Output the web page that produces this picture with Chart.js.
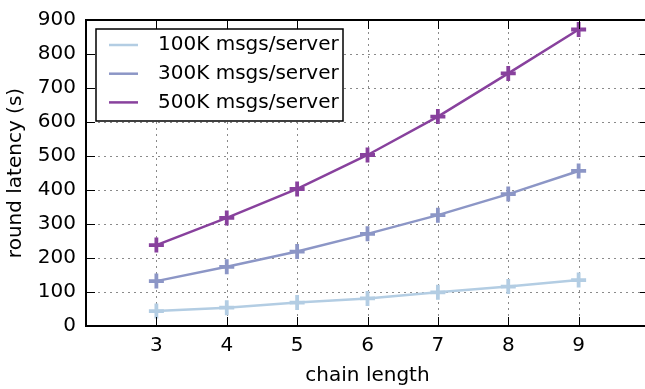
<!DOCTYPE html>
<html>
<head>
<meta charset="utf-8">
<script src="https://cdn.jsdelivr.net/npm/chart.js@4/dist/chart.umd.min.js"></script>
<style>
  html, body { margin: 0; padding: 0; background: #fff; overflow: hidden; }
  #wrap { width: 645px; height: 389px; overflow: hidden; }
  canvas { display: block; }
</style>
</head>
<body>
<div id="wrap"><canvas id="c" width="649" height="389"></canvas></div>
<script>
// Round latency vs. mix-chain length, per message load
const chainLengths = [3, 4, 5, 6, 7, 8, 9];
const latency100K = [44, 54, 69, 81, 99, 116, 135];
const latency300K = [132, 174, 219, 271, 326, 388, 456];
const latency500K = [238, 318, 403, 503, 616, 743, 872];
const seriesLabels = ['100K msgs/server', '300K msgs/server', '500K msgs/server'];
const seriesColors = ['#b3cde3', '#8c96c6', '#88419d'];
const xTickValues = [3, 4, 5, 6, 7, 8, 9];
const yTickValues = [0, 100, 200, 300, 400, 500, 600, 700, 800, 900];

const FONT_FAMILY = "'DejaVu Sans', 'Liberation Sans', sans-serif";
const FONT_SIZE = 20;

function toPoints(values) {
  return chainLengths.map((x, i) => ({ x: x, y: values[i] }));
}

const seriesValues = [latency100K, latency300K, latency500K];
const datasets = seriesValues.map((vals, i) => ({
  label: seriesLabels[i],
  data: toPoints(vals),
  borderColor: seriesColors[i],
  backgroundColor: seriesColors[i],
  borderWidth: 2.5,
  pointStyle: 'cross',
  pointRadius: 7.5,
  pointBorderWidth: 3.8,
  pointHoverRadius: 7.5,
  tension: 0,
  fill: false
}));

// Dotted grid, inward tick marks, black frame and boxed legend
const framePlugin = {
  id: 'frameAndLegend',
  beforeDatasetsDraw(chart) {
    const { ctx, chartArea: a, scales } = chart;
    ctx.save();
    ctx.strokeStyle = '#8a8a8a';
    ctx.lineWidth = 1;
    ctx.setLineDash([2, 4]);
    xTickValues.forEach(v => {
      const px = Math.round(scales.x.getPixelForValue(v)) + 0.5;
      ctx.beginPath(); ctx.moveTo(px, a.top); ctx.lineTo(px, a.bottom); ctx.stroke();
    });
    yTickValues.slice(1, -1).forEach(v => {
      const py = Math.round(scales.y.getPixelForValue(v)) + 0.5;
      ctx.beginPath(); ctx.moveTo(a.left, py); ctx.lineTo(a.right, py); ctx.stroke();
    });
    ctx.restore();
  },
  afterDatasetsDraw(chart) {
    const { ctx, chartArea: a, scales } = chart;
    const tickLen = 9;
    ctx.save();
    ctx.setLineDash([]);
    ctx.strokeStyle = '#000';
    ctx.lineWidth = 1;
    xTickValues.forEach(v => {
      const px = Math.round(scales.x.getPixelForValue(v)) + 0.5;
      ctx.beginPath(); ctx.moveTo(px, a.bottom); ctx.lineTo(px, a.bottom - tickLen); ctx.stroke();
      ctx.beginPath(); ctx.moveTo(px, a.top); ctx.lineTo(px, a.top + tickLen); ctx.stroke();
    });
    yTickValues.forEach(v => {
      const py = Math.round(scales.y.getPixelForValue(v)) + 0.5;
      ctx.beginPath(); ctx.moveTo(a.left, py); ctx.lineTo(a.left + tickLen, py); ctx.stroke();
      ctx.beginPath(); ctx.moveTo(a.right, py); ctx.lineTo(a.right - tickLen, py); ctx.stroke();
    });
    ctx.lineWidth = 2;
    ctx.strokeRect(Math.round(a.left), Math.round(a.top), Math.round(a.right - a.left), Math.round(a.bottom - a.top));

    // legend box
    const bx = a.left + 10, by = a.top + 9, bw = 247, bh = 92;
    ctx.fillStyle = '#fff';
    ctx.fillRect(bx, by, bw, bh);
    ctx.lineWidth = 1.5;
    ctx.strokeStyle = '#000';
    ctx.strokeRect(bx, by, bw, bh);
    ctx.font = FONT_SIZE + 'px ' + FONT_FAMILY;
    ctx.textBaseline = 'middle';
    ctx.textAlign = 'left';
    chart.data.datasets.forEach((ds, i) => {
      const ry = by + 16 + i * 28.7;
      ctx.strokeStyle = ds.borderColor;
      ctx.lineWidth = 2.5;
      ctx.beginPath(); ctx.moveTo(bx + 13, ry); ctx.lineTo(bx + 42, ry); ctx.stroke();
      ctx.fillStyle = '#000';
      ctx.fillText(ds.label, bx + 62, ry);
    });
    ctx.restore();
  }
};

new Chart(document.getElementById('c'), {
  type: 'line',
  data: { datasets: datasets },
  options: {
    responsive: false,
    animation: false,
    devicePixelRatio: 1,
    layout: { autoPadding: false, padding: { top: 20, left: 0, right: 0, bottom: 0 } },
    plugins: { legend: { display: false }, tooltip: { enabled: false } },
    scales: {
      x: {
        type: 'linear',
        min: 2,
        max: 10,
        grid: { display: false, drawTicks: false },
        border: { display: false },
        ticks: {
          stepSize: 1,
          padding: 8,
          color: '#000',
          font: { family: FONT_FAMILY, size: FONT_SIZE },
          callback: v => (xTickValues.includes(v) ? String(v) : '')
        },
        title: {
          display: true,
          text: 'chain length',
          color: '#000',
          font: { family: FONT_FAMILY, size: FONT_SIZE },
          padding: { top: 0, bottom: 1 }
        },
        afterFit: s => { s.height = 63; s.paddingLeft = 0; s.paddingRight = 0; }
      },
      y: {
        min: 0,
        max: 900,
        grid: { display: false, drawTicks: false },
        border: { display: false },
        ticks: {
          stepSize: 100,
          padding: 10,
          color: '#000',
          font: { family: FONT_FAMILY, size: FONT_SIZE },
          callback: v => (yTickValues.includes(v) ? String(v) : '')
        },
        title: {
          display: true,
          text: 'round latency (s)',
          color: '#000',
          font: { family: FONT_FAMILY, size: FONT_SIZE },
          padding: { top: 4, bottom: 0 }
        },
        afterFit: s => { s.width = 86; s.paddingTop = 0; s.paddingBottom = 0; }
      }
    }
  },
  plugins: [framePlugin]
});
</script>
</body>
</html>
